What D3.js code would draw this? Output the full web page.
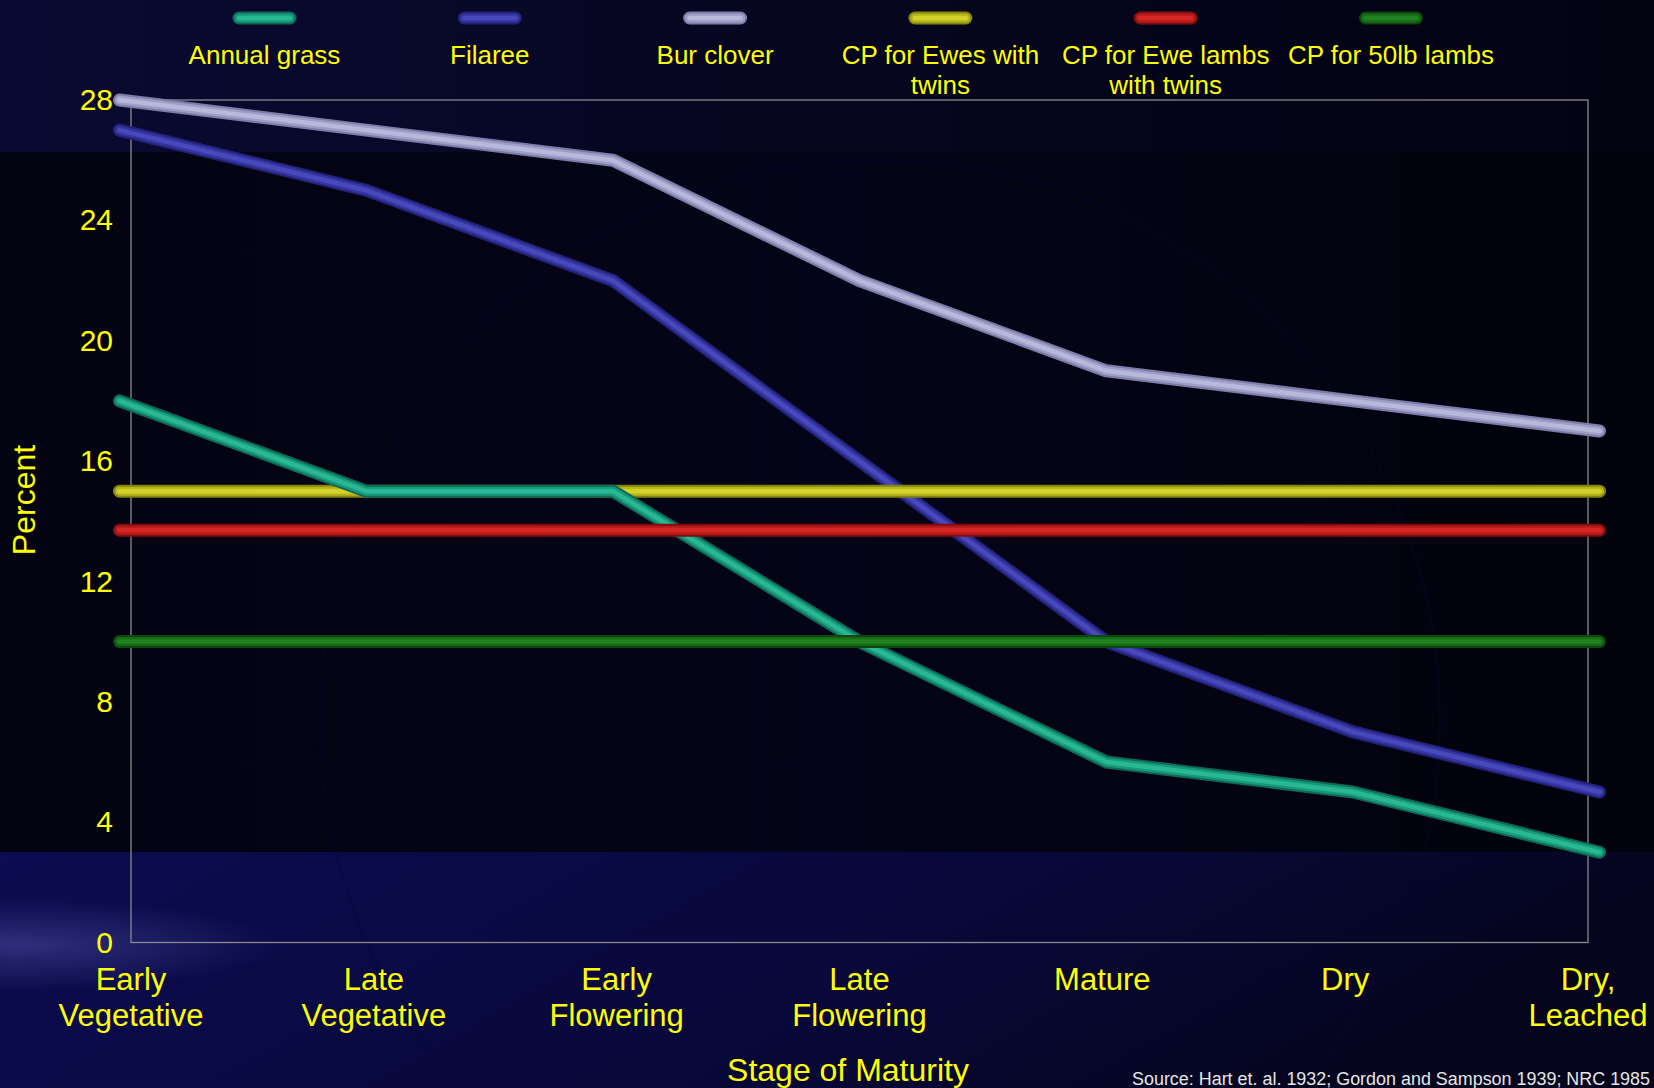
<!DOCTYPE html>
<html>
<head>
<meta charset="utf-8">
<script src="https://cdn.jsdelivr.net/npm/d3@7"></script>
<style>
  html, body { margin: 0; padding: 0; background: #03030f; overflow: hidden; }
  svg { display: block; font-family: "Liberation Sans", Arial, sans-serif; }
</style>
</head>
<body>
<svg id="chart" width="1654" height="1088"></svg>
<script>
// Crude protein content of range forage by stage of maturity (percent)
const categories = ["Early Vegetative", "Late Vegetative", "Early Flowering", "Late Flowering", "Mature", "Dry", "Dry, Leached"];
const seriesNames = ["Annual grass", "Filaree", "Bur clover", "CP for Ewes with twins", "CP for Ewe lambs with twins", "CP for 50lb lambs"];
const annualGrass = [18, 15, 15, 10, 6, 5, 3];
const filaree = [27, 25, 22, 16, 10, 7, 5];
const burClover = [28, 27, 26, 22, 19, 18, 17];
const cpEwesTwins = [15, 15, 15, 15, 15, 15, 15];
const cpEweLambsTwins = [13.7, 13.7, 13.7, 13.7, 13.7, 13.7, 13.7];
const cp50lbLambs = [10, 10, 10, 10, 10, 10, 10];
const yTicks = [0, 4, 8, 12, 16, 20, 24, 28];
const sourceNote = "Source: Hart et. al. 1932; Gordon and Sampson 1939; NRC 1985";

// tube shading: edge, body, highlight
const palette = {
  "Annual grass":                ["#0e6b55", "#189a7e", "#2ab892"],
  "Filaree":                     ["#24247a", "#3535a2", "#4848bc"],
  "Bur clover":                  ["#7c7ca8", "#9d9dc6", "#b8b8dc"],
  "CP for Ewes with twins":      ["#85850e", "#b6b61c", "#d2d22a"],
  "CP for Ewe lambs with twins": ["#860e0e", "#b81a1a", "#d62828"],
  "CP for 50lb lambs":           ["#0d470d", "#186c18", "#228322"]
};
const tubeWidths = [13, 9, 4.5];

const series = [
  { name: seriesNames[0], values: annualGrass },
  { name: seriesNames[1], values: filaree },
  { name: seriesNames[2], values: burClover },
  { name: seriesNames[3], values: cpEwesTwins },
  { name: seriesNames[4], values: cpEweLambsTwins },
  { name: seriesNames[5], values: cp50lbLambs }
];
// stacking order of the tubes
const drawOrder = [seriesNames[1], seriesNames[3], seriesNames[0], seriesNames[2], seriesNames[4], seriesNames[5]];

const W = 1654, H = 1088;
const svg = d3.select("#chart");
const defs = svg.append("defs");

// ---------- background ----------
const gTop = defs.append("linearGradient").attr("id", "bgTop").attr("x1", 0).attr("x2", 1).attr("y1", 0).attr("y2", 0);
gTop.append("stop").attr("offset", 0).attr("stop-color", "#0a0a34");
gTop.append("stop").attr("offset", 0.5).attr("stop-color", "#06061f");
gTop.append("stop").attr("offset", 1).attr("stop-color", "#030312");

const gMid = defs.append("linearGradient").attr("id", "bgMid").attr("x1", 0).attr("x2", 1).attr("y1", 0).attr("y2", 0);
gMid.append("stop").attr("offset", 0).attr("stop-color", "#030312");
gMid.append("stop").attr("offset", 0.5).attr("stop-color", "#040418");
gMid.append("stop").attr("offset", 1).attr("stop-color", "#02020c");

const gBot = defs.append("linearGradient").attr("id", "bgBot").attr("x1", 0).attr("x2", 1).attr("y1", 0).attr("y2", 0.25);
gBot.append("stop").attr("offset", 0).attr("stop-color", "#0c0c52");
gBot.append("stop").attr("offset", 0.6).attr("stop-color", "#08083a");
gBot.append("stop").attr("offset", 1).attr("stop-color", "#05051e");

const glow = defs.append("radialGradient").attr("id", "glow").attr("cx", 0.5).attr("cy", 0.5).attr("r", 0.5);
glow.append("stop").attr("offset", 0).attr("stop-color", "#3a3a8a").attr("stop-opacity", 0.75);
glow.append("stop").attr("offset", 1).attr("stop-color", "#3a3a8a").attr("stop-opacity", 0);

const bg = svg.append("g");
bg.append("rect").attr("width", W).attr("height", H).attr("fill", "#04041a");
bg.append("rect").attr("x", 0).attr("y", 0).attr("width", W).attr("height", 152).attr("fill", "url(#bgTop)");
bg.append("rect").attr("x", 0).attr("y", 152).attr("width", W).attr("height", 700).attr("fill", "url(#bgMid)");
bg.append("rect").attr("x", 0).attr("y", 852).attr("width", W).attr("height", H - 852).attr("fill", "url(#bgBot)");
bg.append("ellipse").attr("cx", 20).attr("cy", 945).attr("rx", 260).attr("ry", 45).attr("fill", "url(#glow)");
// faint arc of the slide backdrop
bg.append("circle").attr("cx", 880).attr("cy", 720).attr("r", 560)
  .attr("fill", "none").attr("stroke", "#0a0a36").attr("stroke-width", 2).attr("opacity", 0.35);

// soft edge for the tubes (user-space region so flat strokes still render)
const blur = defs.append("filter").attr("id", "soft").attr("filterUnits", "userSpaceOnUse")
  .attr("x", 0).attr("y", 0).attr("width", W).attr("height", H);
blur.append("feGaussianBlur").attr("stdDeviation", 0.7);

// ---------- scales ----------
const y = d3.scaleLinear().domain([0, 28]).range([942.5, 100]);
const xLabel = d3.scalePoint().domain(categories).range([131, 1588]);
const xLine = d3.scalePoint().domain(categories).range([119.5, 1599.5]);

// plot frame
svg.append("rect")
  .attr("x", xLabel.range()[0]).attr("y", y(28))
  .attr("width", xLabel.range()[1] - xLabel.range()[0]).attr("height", y(0) - y(28))
  .attr("fill", "none").attr("stroke", "#8a8a8a").attr("stroke-width", 1.3);

// y axis
const yAxis = svg.append("g")
  .attr("transform", `translate(${xLabel.range()[0]},0)`)
  .call(d3.axisLeft(y).tickValues(yTicks).tickSize(0).tickPadding(18));
yAxis.select(".domain").remove();
yAxis.selectAll("text")
  .attr("fill", "#ffff00").attr("font-size", 30)
  .attr("font-family", "'Liberation Sans', Arial, sans-serif");

// category labels
const catG = svg.append("g").attr("fill", "#ffff00").attr("font-size", 31).attr("text-anchor", "middle");
categories.forEach(c => {
  const t = catG.append("text").attr("x", xLabel(c)).attr("y", 990);
  c.split(" ").forEach((w, i) => {
    t.append("tspan").attr("x", xLabel(c)).attr("dy", i === 0 ? 0 : 36).text(w);
  });
});

// axis titles
svg.append("text").attr("x", 848).attr("y", 1081).attr("text-anchor", "middle")
  .attr("fill", "#ffff00").attr("font-size", 32).text("Stage of Maturity");
svg.append("text").attr("transform", "translate(35,500) rotate(-90)").attr("text-anchor", "middle")
  .attr("fill", "#ffff00").attr("font-size", 32).text("Percent");

// ---------- lines ----------
const line = d3.line().x((d, i) => xLine(categories[i])).y(d => y(d));
const linesG = svg.append("g").attr("filter", "url(#soft)");
drawOrder.forEach(name => {
  const s = series.find(d => d.name === name);
  const cols = palette[name];
  const g = linesG.append("g");
  tubeWidths.forEach((w, k) => {
    g.append("path").datum(s.values).attr("d", line)
      .attr("fill", "none").attr("stroke", cols[k]).attr("stroke-width", w)
      .attr("stroke-linecap", "round").attr("stroke-linejoin", "round");
  });
});

// ---------- legend ----------
const legX = d3.scalePoint().domain(seriesNames).range([264.5, 1391]);
const legend = svg.append("g");
const wrapWidth = 215;
seriesNames.forEach(name => {
  const cx = legX(name), cols = palette[name];
  const sw = legend.append("g").attr("filter", "url(#soft)");
  tubeWidths.forEach((w, k) => {
    sw.append("line").attr("x1", cx - 25.5).attr("x2", cx + 25.5).attr("y1", 18).attr("y2", 18)
      .attr("stroke", cols[k]).attr("stroke-width", w).attr("stroke-linecap", "round");
  });
  const t = legend.append("text").attr("text-anchor", "middle").attr("fill", "#ffff00").attr("font-size", 26);
  const words = name.split(" ");
  let lines = [], cur = [];
  const probe = t.append("tspan");
  words.forEach(w => {
    probe.text([...cur, w].join(" "));
    if (cur.length && probe.node().getComputedTextLength() > wrapWidth) { lines.push(cur.join(" ")); cur = [w]; }
    else cur.push(w);
  });
  lines.push(cur.join(" "));
  probe.remove();
  lines.forEach((l, i) => t.append("tspan").attr("x", cx).attr("y", 64 + i * 30).text(l));
});

// source note, fitted between its start and the right edge
const note = svg.append("text").attr("x", 1132).attr("y", 1085).attr("fill", "#e6e6e6")
  .attr("font-size", 18).text(sourceNote);
const room = W - 4 - 1132;
if (note.node().getComputedTextLength() > room) {
  note.attr("textLength", room).attr("lengthAdjust", "spacingAndGlyphs");
}
</script>
</body>
</html>
